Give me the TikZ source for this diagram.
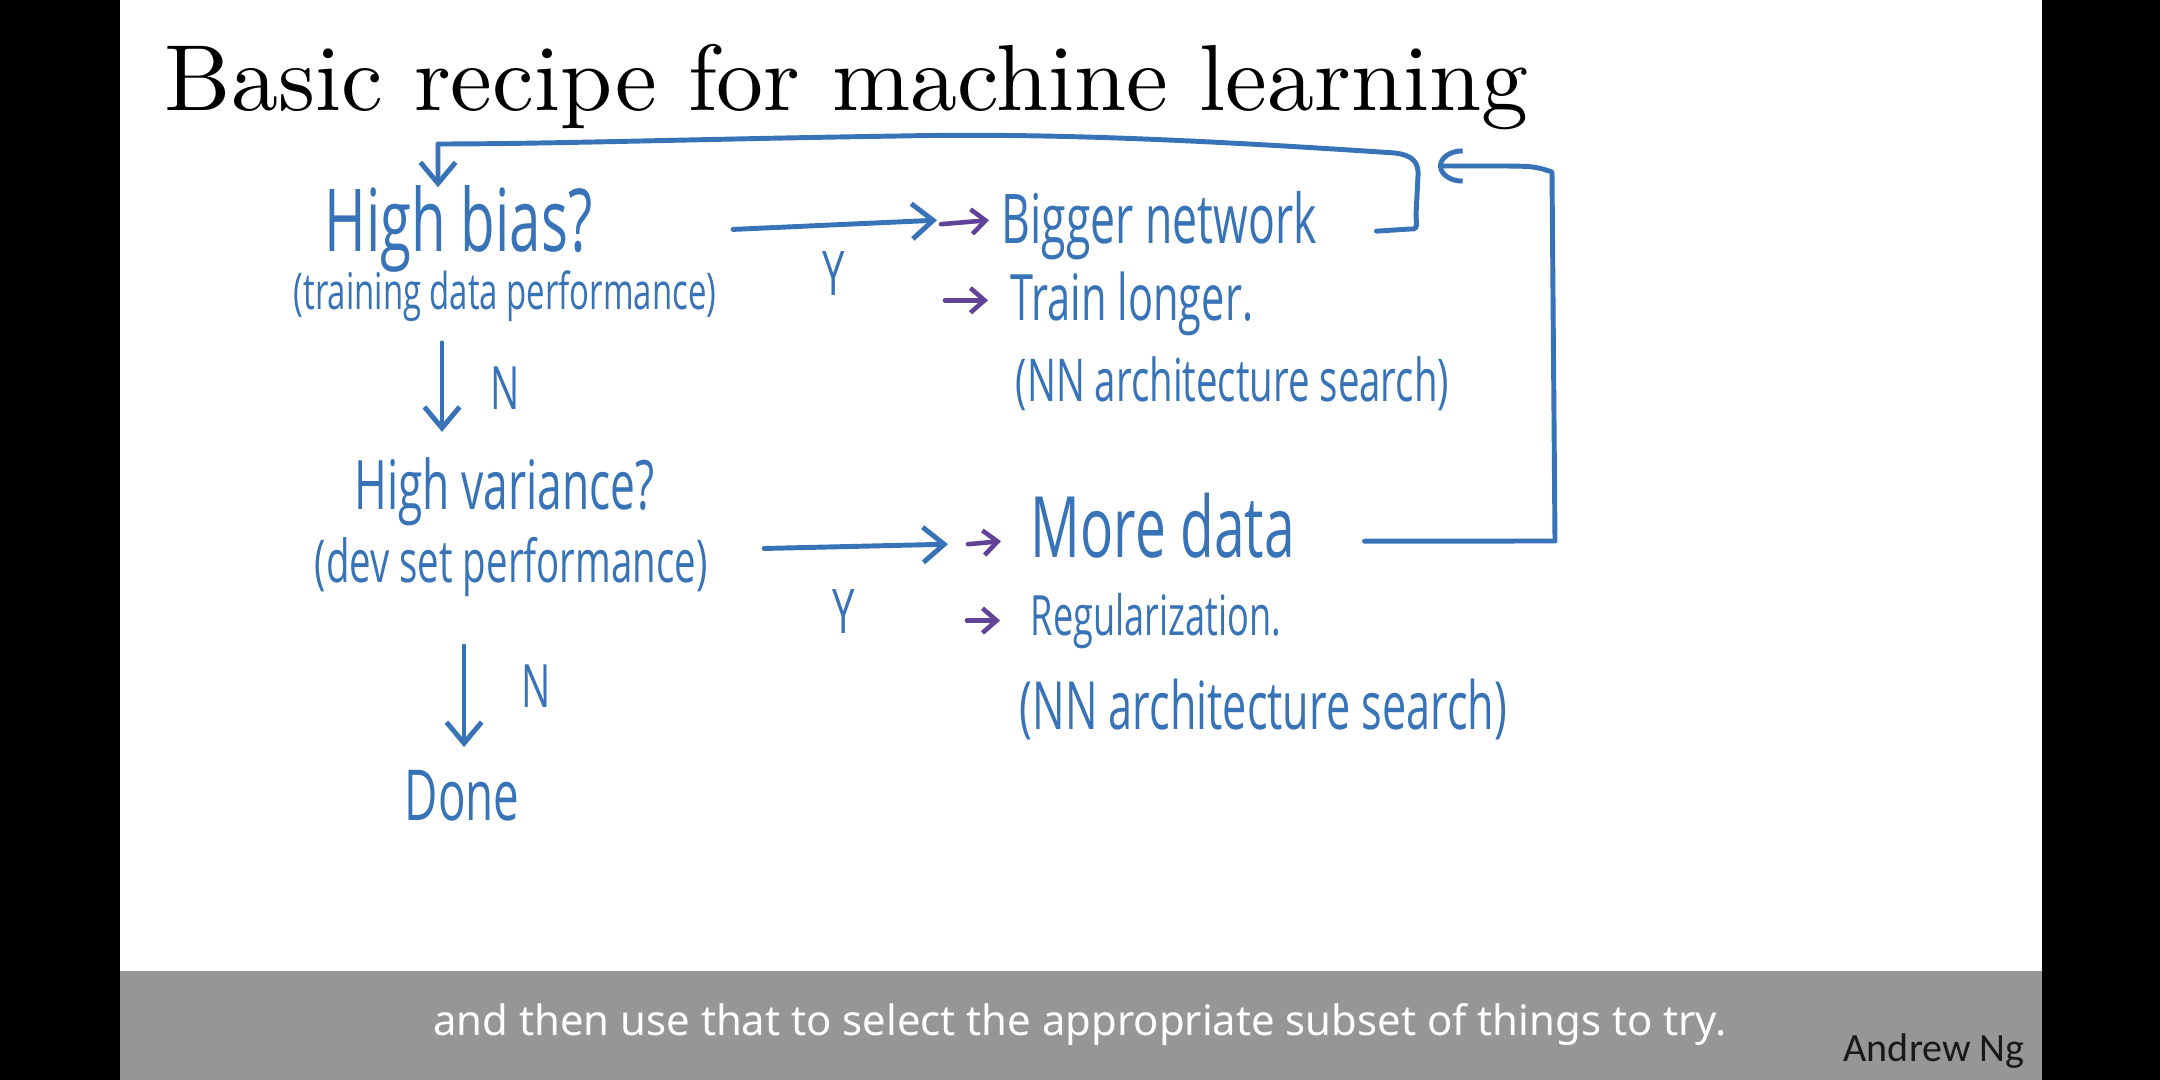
\documentclass[tikz,border=0pt]{standalone}
\usepackage{fontspec}
\usetikzlibrary{arrows.meta,positioning}
\newfontfamily\titlefont{lmroman10-regular}[Extension=.otf]
\newfontfamily\handfont[FakeStretch=0.65]{Open Sans}
\newfontfamily\capfont{Noto Sans}
\newfontfamily\namefont{Carlito}
\definecolor{pen}{RGB}{55,115,182}
\definecolor{penpurple}{RGB}{96,66,152}
\definecolor{capgray}{RGB}{150,150,150}

\begin{document}
\begin{tikzpicture}[x=0.01cm,y=-0.01cm,>={Straight Barb[length=6pt,width=10pt]},
 hw/.style={font=\handfont\fontsize{#1}{#1}\selectfont,text=pen,inner sep=0pt,anchor=base west},
 pen/.style={draw=pen,line width=1.4pt,line cap=round,line join=round},
 bullet/.style={draw=penpurple,line width=1.3pt,line cap=round,-{Straight Barb[length=4pt,width=7pt]}}]
 \useasboundingbox (0,0) rectangle (2160,1080);
 \fill[black] (0,0) rectangle (2160,1080);
 \fill[white] (120,0) rectangle (2042,971);
 \fill[capgray] (120,971) rectangle (2042,1080);
 \node[anchor=base west,inner sep=0pt,font=\titlefont\fontsize{26.7}{30}\selectfont] (title) at (164,111) {Basic recipe for machine learning};
 % questions
 \node[hw=24.7] (hb) at (324,252) {High bias?};
 \node[hw=14.4] (tc) at (293,310) {(training data performance)};
 \node[hw=17] (n1) at (490,410) {N};
 \node[hw=19.4] (hv) at (354,510) {High variance?};
 \node[hw=16.8] (dv) at (314,583) {(dev set performance)};
 \node[hw=17] (n2) at (521,708) {N};
 \node[hw=20] (dn) at (404,821) {Done};
 \node[hw=17.5] (y1) at (822,296) {Y};
 \node[hw=17.5] (y2) at (832,634) {Y};
 % remedies
 \node[hw=19.5] (bn) at (1001,244) {Bigger network};
 \node[hw=18.2] (tl) at (1010,321) {Train longer.};
 \node[hw=16.8] (na1) at (1015,402) {(NN architecture search)};
 \node[hw=24.1] (md) at (1030,558) {More data};
 \node[hw=15.8] (rg) at (1030,636) {Regularization.};
 \node[hw=18.9] (na2) at (1019,730) {(NN architecture search)};
 \draw[pen,->] ([shift={(-63,20)}]tc.south) -- ([shift={(-63,109)}]tc.south);
 \draw[pen,->] (dn.north |- dv.south) ++(2,48) -- ([shift={(2,-23)}]dn.north);
 \draw[pen,->] ([shift={(140,0)}]hb.east) -- ([shift={(-64,-6)}]bn.west);
 \draw[pen,->] ([shift={(56,-19)}]dv.east) -- ([shift={(-82,18)}]md.west);
 \draw[bullet] ([shift={(-60,-2)}]bn.west) -- ([shift={(-12,-6)}]bn.west);
 \draw[bullet] ([shift={(-65,-4)}]tl.west) -- ([shift={(-22,-4)}]tl.west);
 \draw[bullet] ([shift={(-62,18)}]md.west) -- ([shift={(-29,15)}]md.west);
 \draw[bullet] ([shift={(-63,-1)}]rg.west) -- ([shift={(-30,-1)}]rg.west);
 % loops back to the top
 \coordinate (loopin) at (1438,166);
 \draw[pen,->] (bn.east) ++(59,5) -- (1410,229) .. controls (1417,229) .. (1416,215) -- (1418,176)
  .. controls (1419,160) and (1410,155) .. (1395,153) .. controls (1200,140) and (1050,133) .. (900,136)
  .. controls (700,139) and (550,144) .. (438,144) -- ([shift={(114,2)}]hb.north west);
 \draw[pen,-{Arc Barb[length=7pt,width=10pt]}] (md.east) ++(69,15) -- (1555,541) -- (1552,172)
  .. controls (1534,166) .. (1484,166) -- (loopin);
 % caption bar
 \node[anchor=base,inner sep=0pt,text=white,font=\capfont\fontsize{11.9}{14}\selectfont] (cap) at (1080,1036) {and then use that to select the appropriate subset of things to try.};
 \node[anchor=base west,inner sep=0pt,text=black!90,font=\namefont\fontsize{11.4}{14}\selectfont] (name) at (1843,1062) {Andrew Ng};
\end{tikzpicture}
\end{document}
